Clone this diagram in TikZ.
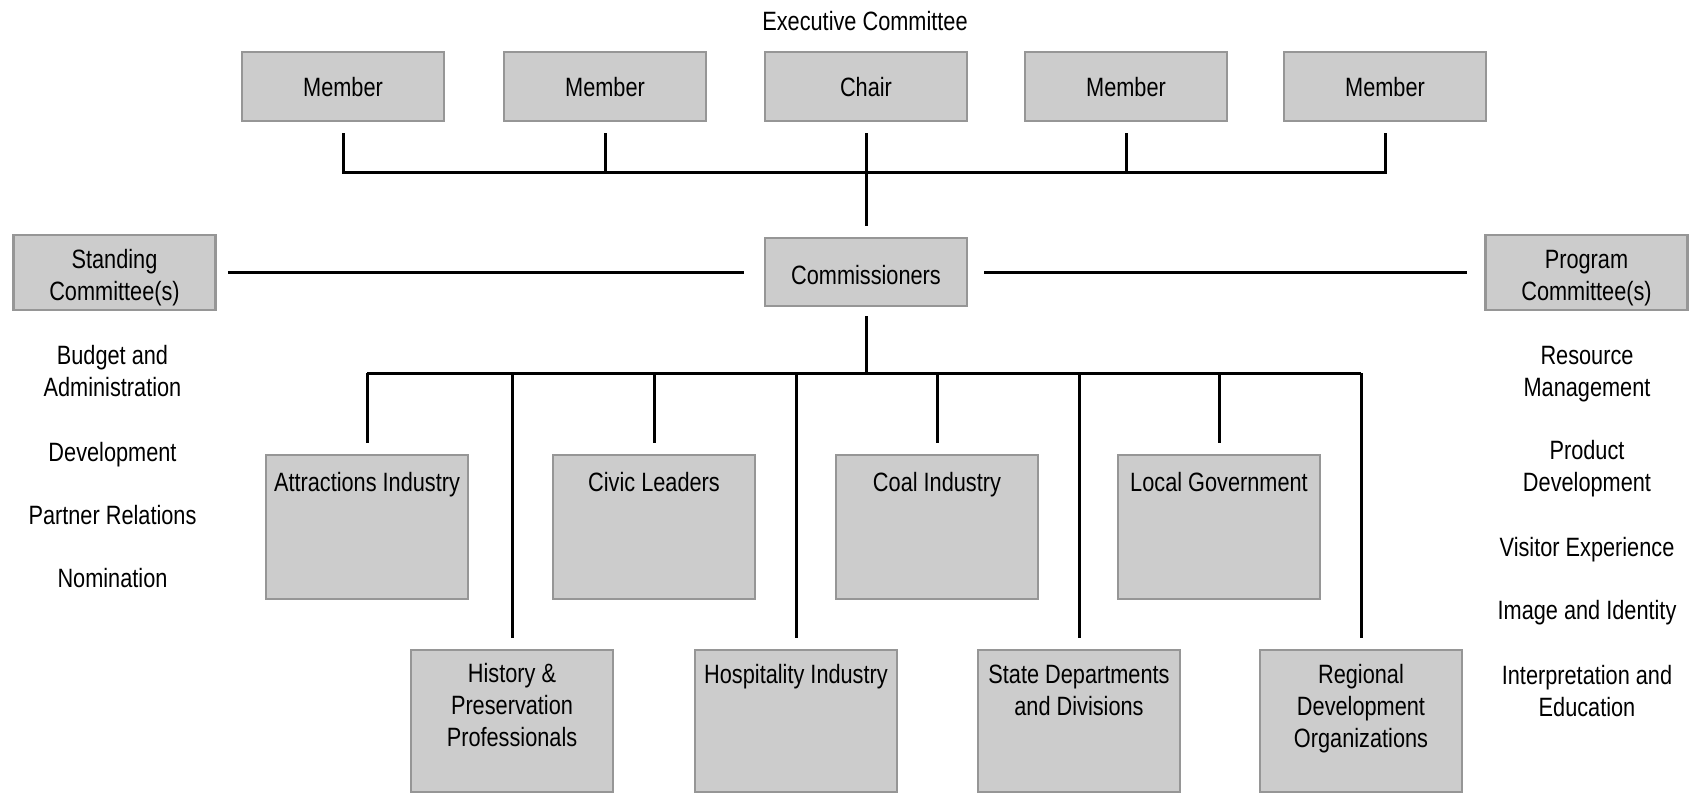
\documentclass[tikz,border=0pt]{standalone}
\usepackage{fontspec}
\setmainfont{Liberation Sans}[FakeStretch=0.82]
\definecolor{boxfill}{RGB}{204,204,204}
\definecolor{boxline}{RGB}{150,150,150}
\begin{document}
\begin{tikzpicture}[x=1pt,y=-1pt,
  box/.style={draw=boxline, fill=boxfill, line width=2.5pt, minimum width=202pt, inner sep=0pt},
  lbl/.style={anchor=base, align=center, inner sep=0pt, font=\fontsize{26.5}{32}\selectfont},
  conn/.style={line width=3pt, black}]
\useasboundingbox (0,0) rectangle (1690,795);
% title
\node[lbl] (exec) at (865,30) {Executive Committee};
% executive row
\node[box, minimum height=69pt] (m1) at (343,86.5) {};
\node[box, minimum height=69pt] (m2) at (605,86.5) {};
\node[box, minimum height=69pt] (chair) at (866,86.5) {};
\node[box, minimum height=69pt] (m4) at (1126,86.5) {};
\node[box, minimum height=69pt] (m5) at (1385,86.5) {};
\node[lbl] (m1t) at (m1.center) [yshift=-9.7pt] {Member};
\node[lbl] (m2t) at (m2.center) [yshift=-9.7pt] {Member};
\node[lbl] (chairt) at (chair.center) [yshift=-9.7pt] {Chair};
\node[lbl] (m4t) at (m4.center) [yshift=-9.7pt] {Member};
\node[lbl] (m5t) at (m5.center) [yshift=-9.7pt] {Member};
% middle row
\node[box, minimum height=68pt] (comm) at (866,272) {};
\node[lbl] (commt) at (866,284.5) {Commissioners};
\node[box, minimum height=75pt] (stand) at (114.5,272.5) {};
\node[lbl] (standt) at (114.5,300.5) {Standing\\Committee(s)};
\node[box, minimum height=75pt] (prog) at (1586.5,272.5) {};
\node[lbl] (progt) at (1586.5,300.5) {Program\\Committee(s)};
% lists (base = last line)
\node[lbl] (l1) at (112.5,396.5) {Budget and\\Administration};
\node[lbl] (l2) at (112.5,461.5) {Development};
\node[lbl] (l3) at (112.5,524.5) {Partner Relations};
\node[lbl] (l4) at (112.5,587.5) {Nomination};
\node[lbl] (r1) at (1587,396.5) {Resource\\Management};
\node[lbl] (r2) at (1587,491.5) {Product\\Development};
\node[lbl] (r3) at (1587,556.5) {Visitor Experience};
\node[lbl] (r4) at (1587,619.5) {Image and Identity};
\node[lbl] (r5) at (1587,716.5) {Interpretation and\\Education};
% top-row children
\node[box, minimum height=144pt] (attr) at (367,527) {};
\node[box, minimum height=144pt] (civic) at (654,527) {};
\node[box, minimum height=144pt] (coal) at (937,527) {};
\node[box, minimum height=144pt] (local) at (1219,527) {};
\node[lbl] (attrt) at (367,491.5) {Attractions Industry};
\node[lbl] (civict) at (654,491.5) {Civic Leaders};
\node[lbl] (coalt) at (937,491.5) {Coal Industry};
\node[lbl] (localt) at (1219,491.5) {Local Government};
% bottom-row children
\node[box, minimum height=142pt] (hist) at (512,721) {};
\node[box, minimum height=142pt] (hosp) at (796,721) {};
\node[box, minimum height=142pt] (state) at (1079,721) {};
\node[box, minimum height=142pt] (reg) at (1361,721) {};
\node[lbl] (histt) at (512,746.5) {History \&\\Preservation\\Professionals};
\node[lbl] (hospt) at (796,683.5) {Hospitality Industry};
\node[lbl] (statet) at (1079,715.5) {State Departments\\and Divisions};
\node[lbl] (regt) at (1361,747.5) {Regional\\Development\\Organizations};
% connectors: executive committee
\coordinate (tbus) at (0,172);
\draw[conn] ([yshift=-11pt]m1.south) -- (m1.south |- tbus) -- (m5.south |- tbus) -- ([yshift=-11pt]m5.south);
\draw[conn] ([yshift=-11pt]m2.south) -- (m2.south |- tbus);
\draw[conn] ([yshift=-11pt]m4.south) -- (m4.south |- tbus);
\draw[conn] ([yshift=-11pt]chair.south) -- ([yshift=11pt]comm.north);
% side committees
\coordinate (sidey) at (0,272.5);
\draw[conn] ([xshift=11pt]stand.east |- sidey) -- ([xshift=-20pt]comm.west |- sidey);
\draw[conn] ([xshift=16pt]comm.east |- sidey) -- ([xshift=-17pt]prog.west |- sidey);
% commissioners to bus
\coordinate (bus) at (0,373);
\draw[conn] ([yshift=-9pt]comm.south) -- (comm.south |- bus);
\draw[conn] (attr.north |- bus) -- (reg.north |- bus);
\foreach \n in {attr,civic,coal,local}
  \draw[conn] (\n.north |- bus) -- ([yshift=11pt]\n.north);
\foreach \n in {hist,hosp,state,reg}
  \draw[conn] (\n.north |- bus) -- ([yshift=11pt]\n.north);
\end{tikzpicture}
\end{document}
